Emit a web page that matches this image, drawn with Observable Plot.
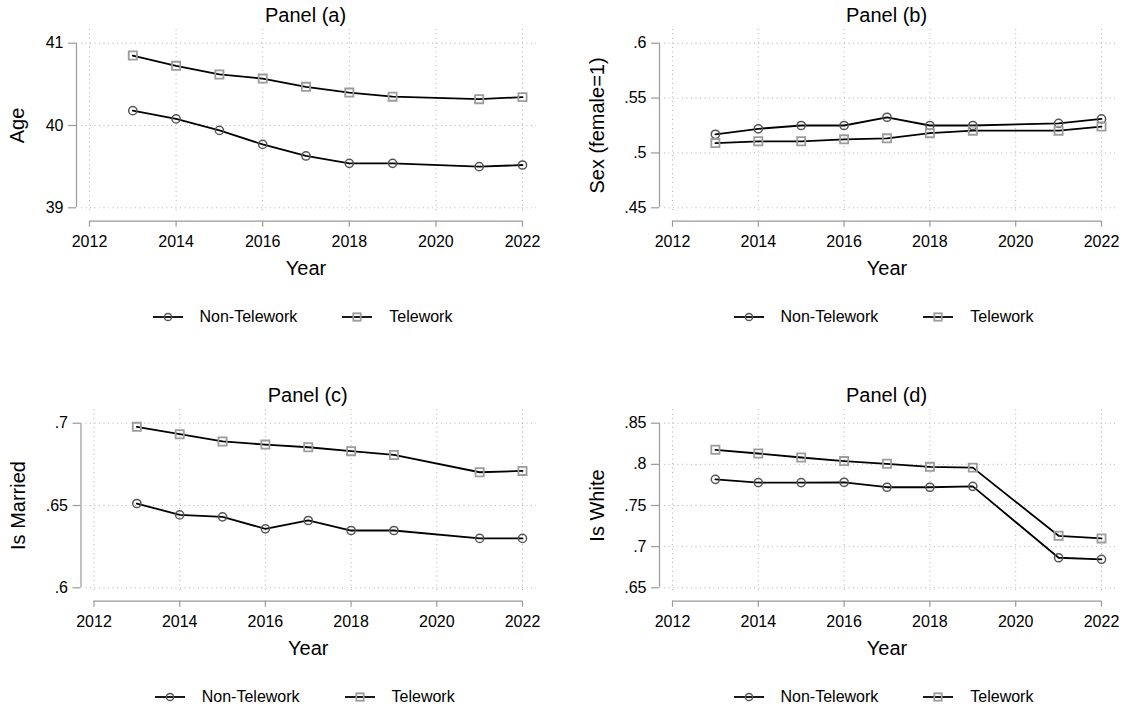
<!DOCTYPE html>
<html>
<head>
<meta charset="utf-8">
<script src="https://cdn.jsdelivr.net/npm/d3@7"></script>
<script src="https://cdn.jsdelivr.net/npm/@observablehq/plot@0.6"></script>
<style>
  html, body { margin: 0; padding: 0; background: #fff; }
  body { font-family: "Liberation Sans", Arial, Helvetica, sans-serif; color: #000; }
  #chart { position: relative; width: 1125px; height: 708px; overflow: hidden; }
  .abs { position: absolute; }
  .title { font-size: 20px; line-height: 24px; text-align: center; width: 240px; white-space: nowrap; }
  .legend { display: flex; align-items: center; font-size: 16px; line-height: 24px; white-space: nowrap; }
  .legend svg { display: block; }
</style>
</head>
<body>
<div id="chart"></div>
<script>
// Survey years (no 2020 wave)
const years = [2013, 2014, 2015, 2016, 2017, 2018, 2019, 2021, 2022];
const groups = ["Non-Telework", "Telework"];

// Panel (a): mean age
const ageNonTelework = [40.18, 40.08, 39.94, 39.77, 39.63, 39.54, 39.54, 39.50, 39.52];
const ageTelework    = [40.85, 40.725, 40.62, 40.57, 40.47, 40.40, 40.35, 40.32, 40.345];
// Panel (b): share female
const femaleNonTelework = [0.517, 0.522, 0.525, 0.525, 0.5325, 0.525, 0.525, 0.527, 0.531];
const femaleTelework    = [0.509, 0.5106, 0.5106, 0.5124, 0.5133, 0.518, 0.5203, 0.5203, 0.524];
// Panel (c): share married
const marriedNonTelework = [0.6512, 0.6443, 0.6431, 0.6358, 0.6409, 0.6348, 0.6348, 0.630, 0.630];
const marriedTelework    = [0.6978, 0.6933, 0.6889, 0.687, 0.6854, 0.683, 0.6807, 0.6702, 0.671];
// Panel (d): share white
const whiteNonTelework = [0.7818, 0.7778, 0.7778, 0.7782, 0.7722, 0.7722, 0.7733, 0.6865, 0.6846];
const whiteTelework    = [0.8177, 0.8132, 0.8083, 0.804, 0.8007, 0.797, 0.796, 0.7132, 0.7100];

// Axis ticks and labels
const xTicks = [2012, 2014, 2016, 2018, 2020, 2022];
const xTickLabels = ["2012", "2014", "2016", "2018", "2020", "2022"];
const ageTicks = [39, 40, 41];
const ageTickLabels = ["39", "40", "41"];
const femaleTicks = [0.45, 0.5, 0.55, 0.6];
const femaleTickLabels = [".45", ".5", ".55", ".6"];
const marriedTicks = [0.6, 0.65, 0.7];
const marriedTickLabels = [".6", ".65", ".7"];
const whiteTicks = [0.65, 0.7, 0.75, 0.8, 0.85];
const whiteTickLabels = [".65", ".7", ".75", ".8", ".85"];

const panelTitles = ["Panel (a)", "Panel (b)", "Panel (c)", "Panel (d)"];
const yTitles = ["Age", "Sex (female=1)", "Is Married", "Is White"];
const xTitle = "Year";

function rows(non, tele) {
  return [
    ...years.map((year, i) => ({year, value: non[i], group: groups[0]})),
    ...years.map((year, i) => ({year, value: tele[i], group: groups[1]}))
  ];
}

const panels = [
  {title: panelTitles[0], yTitle: yTitles[0], data: rows(ageNonTelework, ageTelework),
   ticks: ageTicks, labels: ageTickLabels, left: 0, top: 0, width: 560, x0: 89, x1: 522, yTitleGap: -63.7},
  {title: panelTitles[1], yTitle: yTitles[1], data: rows(femaleNonTelework, femaleTelework),
   ticks: femaleTicks, labels: femaleTickLabels, left: 560, top: 0, width: 565, x0: 672, x1: 1101, yTitleGap: -67.3},
  {title: panelTitles[2], yTitle: yTitles[2], data: rows(marriedNonTelework, marriedTelework),
   ticks: marriedTicks, labels: marriedTickLabels, left: 0, top: 380, width: 560, x0: 93.5, x1: 522, yTitleGap: -67.6},
  {title: panelTitles[3], yTitle: yTitles[3], data: rows(whiteNonTelework, whiteTelework),
   ticks: whiteTicks, labels: whiteTickLabels, left: 560, top: 380, width: 565, x0: 672, x1: 1101, yTitleGap: -67.2}
];

const FONT = '"Liberation Sans", Arial, Helvetica, sans-serif';
const AXIS = "#9a9a9a";
const GRID = "#b4b4b4";
const CIRCLE = "#555555";
const SQUARE = "#9c9c9c";

const chart = document.getElementById("chart");

function place(el, left, top) {
  el.classList.add("abs");
  el.style.left = left + "px";
  el.style.top = top + "px";
  chart.appendChild(el);
  return el;
}

function legendSample(kind) {
  const ns = "http://www.w3.org/2000/svg";
  const svg = document.createElementNS(ns, "svg");
  svg.setAttribute("width", 30);
  svg.setAttribute("height", 12);
  const line = document.createElementNS(ns, "line");
  line.setAttribute("x1", 0); line.setAttribute("x2", 30);
  line.setAttribute("y1", 6); line.setAttribute("y2", 6);
  line.setAttribute("stroke", "#000"); line.setAttribute("stroke-width", 1.8);
  svg.appendChild(line);
  if (kind === "circle") {
    const c = document.createElementNS(ns, "circle");
    c.setAttribute("cx", 15); c.setAttribute("cy", 6); c.setAttribute("r", 3.6);
    c.setAttribute("fill", "none"); c.setAttribute("stroke", CIRCLE); c.setAttribute("stroke-width", 1.5);
    svg.appendChild(c);
  } else {
    const r = document.createElementNS(ns, "rect");
    r.setAttribute("x", 11.3); r.setAttribute("y", 2.3); r.setAttribute("width", 7.4); r.setAttribute("height", 7.4);
    r.setAttribute("fill", "none"); r.setAttribute("stroke", SQUARE); r.setAttribute("stroke-width", 1.8);
    svg.appendChild(r);
  }
  return svg;
}

for (const p of panels) {
  const svgTop = p.top + 27;
  const height = 260;
  const marginTop = 2;
  const marginBottom = 74;
  const insetLeft = 8, insetRight = 14;
  const marginLeft = p.x0 - insetLeft - p.left;
  const marginRight = p.width - (p.x1 + insetRight - p.left);
  const yDomain = [p.ticks[0], p.ticks[p.ticks.length - 1]];
  const center = (p.x0 + p.x1) / 2;

  const plot = Plot.plot({
    width: p.width,
    height,
    marginLeft, marginRight, marginTop, marginBottom,
    x: {domain: [2012, 2022], insetLeft, insetRight},
    y: {domain: yDomain, insetTop: 13.7, insetBottom: 5.7},
    style: {fontFamily: FONT, fontSize: "16px", color: "#000", background: "transparent", overflow: "visible"},
    marks: [
      Plot.gridX(xTicks, {stroke: GRID, strokeOpacity: 1, strokeWidth: 1, strokeDasharray: "1,3.5"}),
      Plot.gridY(p.ticks, {stroke: GRID, strokeOpacity: 1, strokeWidth: 1, strokeDasharray: "1,3.5"}),
      // y axis line spans the tick range, set off to the left of the plot region
      Plot.ruleX([{x: 2012, y1: yDomain[0], y2: yDomain[1]}], {x: "x", y1: "y1", y2: "y2", dx: -13, stroke: AXIS, strokeWidth: 1.2}),
      // x axis line spans the tick range, set off below the plot region
      Plot.ruleY([{y: yDomain[0], x1: 2012, x2: 2022}], {y: "y", x1: "x1", x2: "x2", dy: 13.4, stroke: AXIS, strokeWidth: 1.2}),
      Plot.axisY(p.ticks, {anchor: "left", dx: -5, tickSize: 8, tickPadding: 5, stroke: AXIS, strokeWidth: 1.2,
        tickFormat: (d, i) => p.labels[i], label: null, fontSize: 16}),
      Plot.axisX(xTicks, {anchor: "bottom", dy: 7.7, tickSize: 6, tickPadding: 8, stroke: AXIS, strokeWidth: 1.2,
        tickFormat: (d, i) => xTickLabels[i], label: null, fontSize: 16}),
      Plot.text([xTitle], {frameAnchor: "bottom", dy: 55, dx: -3, fontSize: 20, fill: "#000",
        textAnchor: "middle", lineAnchor: "middle"}),
      Plot.text([p.yTitle], {frameAnchor: "left", rotate: -90, dx: p.yTitleGap, dy: 4, fontSize: 20, fill: "#000",
        textAnchor: "middle", lineAnchor: "middle"}),
      Plot.line(p.data, {x: "year", y: "value", z: "group", stroke: "#000", strokeWidth: 1.8, curve: "linear"}),
      Plot.dot(p.data.filter(d => d.group === groups[0]), {x: "year", y: "value", r: 4.1, symbol: "circle",
        fill: "none", stroke: CIRCLE, strokeWidth: 1.5}),
      Plot.dot(p.data.filter(d => d.group === groups[1]), {x: "year", y: "value", r: 4.6, symbol: "square",
        fill: "none", stroke: SQUARE, strokeWidth: 1.8})
    ]
  });
  place(plot, p.left, svgTop);

  // Panel title above the plot
  const title = document.createElement("div");
  title.className = "title";
  title.textContent = p.title;
  place(title, center - 120, p.top + 3);

  // Legend below the plot
  const legend = document.createElement("div");
  legend.className = "legend";
  const items = [["circle", groups[0]], ["square", groups[1]]];
  items.forEach(([kind, name], i) => {
    const s = legendSample(kind);
    s.style.marginRight = "17px";
    if (i > 0) s.style.marginLeft = "45px";
    legend.appendChild(s);
    const t = document.createElement("span");
    t.textContent = name;
    legend.appendChild(t);
  });
  legend.style.width = "302px";
  place(legend, center - 2 - 151, p.top + 304.5);
}
</script>
</body>
</html>
